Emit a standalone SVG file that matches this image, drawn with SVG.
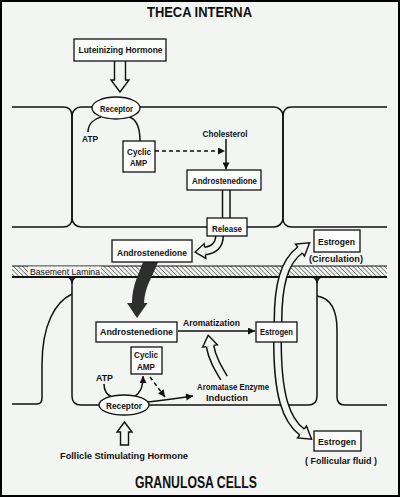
<svg xmlns="http://www.w3.org/2000/svg" width="400" height="497" viewBox="0 0 400 497">
<defs>
<style>
.bg{fill:#f3f5f2}
.cell{fill:none;stroke:#111;stroke-width:1.5;stroke-linejoin:round}
.box{fill:#fbfcfb;stroke:#111;stroke-width:1.3}
.t{font-family:"Liberation Sans",Arial,sans-serif;font-weight:bold;font-size:9px;text-anchor:middle;fill:#111}
.tn{font-family:"Liberation Sans",Arial,sans-serif;font-size:9px;text-anchor:middle;fill:#111}
.ttl{font-family:"Liberation Sans",Arial,sans-serif;font-weight:bold;text-anchor:middle;fill:#111}
.ln{fill:none;stroke:#111;stroke-width:1.5}
.dash{stroke-dasharray:4 3}
.ho{fill:none;stroke:#111;stroke-width:9}
.hi{fill:none;stroke:#f3f5f2;stroke-width:6}
.hd{fill:#f3f5f2;stroke:#111;stroke-width:1.4;stroke-linejoin:miter}
</style>
<marker id="ah" viewBox="0 0 10 10" refX="10" refY="5" markerWidth="8" markerHeight="7" markerUnits="userSpaceOnUse" orient="auto"><path d="M0,0 L10,5 L0,10 z" fill="#111"/></marker>
<pattern id="hatch" width="3.2" height="3.2" patternUnits="userSpaceOnUse" patternTransform="rotate(-45)"><line x1="0" y1="0" x2="0" y2="3.2" stroke="#222" stroke-width="1"/></pattern>
</defs>
<rect class="bg" x="0" y="0" width="400" height="497"/>
<rect x="1" y="1" width="398" height="495" fill="none" stroke="#000" stroke-width="2"/>

<text class="ttl" x="199.5" y="16.5" font-size="14" textLength="105" lengthAdjust="spacingAndGlyphs">THECA INTERNA</text>
<text class="ttl" x="196" y="488" font-size="16" textLength="122" lengthAdjust="spacingAndGlyphs">GRANULOSA CELLS</text>

<g id="theca-cells">
<path class="cell" d="M12,107 H63 Q72,107 72,116 V218 Q72,227 63,227 H12"/>
<rect class="cell" x="72" y="107" width="211" height="120" rx="9"/>
<path class="cell" d="M387,107 H292 Q283,107 283,116 V218 Q283,227 292,227 H387"/>
</g>

<g id="basement-lamina">
<rect x="12" y="266" width="375" height="11" fill="url(#hatch)"/>
<line x1="12" y1="266" x2="387" y2="266" stroke="#111" stroke-width="1"/>
<line x1="12" y1="277" x2="387" y2="277" stroke="#111" stroke-width="2"/>
<rect class="bg" x="28" y="266.5" width="73" height="9.5"/>
<text class="tn" x="65" y="274.5" font-size="8.5" textLength="70" lengthAdjust="spacingAndGlyphs">Basement Lamina</text>
</g>

<g id="granulosa-cells">
<path class="cell" d="M12,404 H37 Q42,404 42,398 V365 C42,325 55,302 72,294"/>
<path class="cell" d="M72,277 V396 Q72,405 81,405 H308 Q317,405 317,396 V277"/>
<path class="cell" d="M68,277 Q72,279 72,283 M76,277 Q72,279 72,283"/>
<path class="cell" d="M313,277 Q317,279 317,283 M321,277 Q317,279 317,283"/>
<path class="cell" d="M317,296 C330,298 337,308 337,330 V397 Q337,405 345,405 H387"/>
</g>

<g id="connectors">
<path class="hd" d="M114.5,61 V80 H111 L120,92 L129,80 H125.5 V61"/>
<path class="hd" d="M120.5,445 V432 H117 L124.5,422 L132,432 H128.5 V445 Z"/>
<path class="ln" d="M88,132 C88,124 94,119 101,117"/>
<path class="ln" d="M129,117 C136,119 140,127 140,141"/>
<path class="ln dash" d="M155,151 H225" marker-end="url(#ah)"/>
<path class="ln" d="M226,139 V169.5" marker-end="url(#ah)"/>
<path class="ho" d="M226.25,190 V218"/>
<path class="hi" d="M226.25,189 V219"/>
<path class="ho" d="M219.5,236 C219.5,245 214,250 205,251"/>
<path class="hi" d="M219.5,235 C219.5,245 214,250 205,251"/>
<path class="hd" d="M204.6,247.3 L204.2,243.6 L195.1,252.1 L205.8,258.4 L205.4,254.7"/>
<path fill="#2e2e2e" d="M143,262 L158,262 C152,278 145,286 144,303 L147.5,303 L137,318 L127,303 L132,303 C132,285 139,274 143,262 Z"/>
<path class="ln" d="M178,331 H255" marker-end="url(#ah)"/>
<path class="ho" d="M278,342 V322 C278,285 284,262 300,250"/>
<path class="hi" d="M278,343 V322 C278,285 284,262 300,250"/>
<path class="hd" d="M297.75,247 L295.5,244 L309.6,242.8 L304.5,256 L302.25,253"/>
<path class="ho" d="M277.5,342 C277.5,395 286,420 302,432"/>
<path class="hi" d="M277.5,341 C277.5,395 286,420 302,432"/>
<path class="hd" d="M304.25,429 L306.5,426 L311.6,439.2 L297.5,438 L299.75,435"/>
<path class="ho" d="M224,378 C218,368 212,358 210,346"/>
<path class="hi" d="M224.6,379 C218,368 212,358 210,346"/>
<path class="hd" d="M213.7,345.4 L217.4,344.8 L208.2,335.2 L202.6,347.2 L206.3,346.6"/>
<path class="ln" d="M104,384 C104,390 107,395 112,397"/>
<path class="ln" d="M134,397 C140,393 143,388 143,376" marker-end="url(#ah)"/>
<path class="ln dash" d="M150,377 L165,397" marker-end="url(#ah)"/>
<path class="ln" d="M148,402 C165,400 180,398 193,396" marker-end="url(#ah)"/>
</g>

<g id="lh">
<rect class="box" x="74" y="39" width="92" height="22"/>
<text class="t" x="120.5" y="53" textLength="84" lengthAdjust="spacingAndGlyphs">Luteinizing Hormone</text>
</g>
<g id="receptor-theca">
<ellipse class="box" cx="116" cy="108" rx="24" ry="11"/>
<text class="t" x="116.5" y="112" textLength="33" lengthAdjust="spacingAndGlyphs">Receptor</text>
</g>
<g id="atp-theca">
<text class="t" x="90" y="142" textLength="16" lengthAdjust="spacingAndGlyphs">ATP</text>
</g>
<g id="camp-theca">
<rect class="box" x="123" y="141" width="32" height="31"/>
<text class="t" x="139" y="154.5" textLength="24" lengthAdjust="spacingAndGlyphs">Cyclic</text>
<text class="t" x="138.5" y="166" textLength="17" lengthAdjust="spacingAndGlyphs">AMP</text>
</g>
<g id="cholesterol">
<text class="t" x="225" y="136.5" textLength="45" lengthAdjust="spacingAndGlyphs">Cholesterol</text>
</g>
<g id="andro-theca">
<rect class="box" x="187" y="170" width="74" height="20"/>
<text class="t" x="224.5" y="184" textLength="65" lengthAdjust="spacingAndGlyphs">Androstenedione</text>
</g>
<g id="release">
<rect class="box" x="207" y="218" width="40" height="18"/>
<text class="t" x="227" y="231.5" textLength="30" lengthAdjust="spacingAndGlyphs">Release</text>
</g>
<g id="andro-mid">
<rect class="box" x="112" y="240" width="80" height="22"/>
<text class="t" x="152" y="255.5" textLength="70" lengthAdjust="spacingAndGlyphs">Androstenedione</text>
</g>
<g id="estrogen-circ">
<rect class="box" x="314" y="230" width="46" height="22"/>
<text class="t" x="336.5" y="244.5" textLength="37" lengthAdjust="spacingAndGlyphs">Estrogen</text>
<text class="t" x="336" y="262" textLength="54" lengthAdjust="spacingAndGlyphs">(Circulation)</text>
</g>
<g id="andro-gran">
<rect class="box" x="96" y="322" width="81" height="20"/>
<text class="t" x="136.5" y="335" textLength="73" lengthAdjust="spacingAndGlyphs">Androstenedione</text>
</g>
<g id="aromatization">
<text class="t" x="211.5" y="326" textLength="57" lengthAdjust="spacingAndGlyphs">Aromatization</text>
</g>
<g id="estrogen-gran">
<rect class="box" x="256" y="322" width="41" height="20"/>
<text class="t" x="276.5" y="335" textLength="33" lengthAdjust="spacingAndGlyphs">Estrogen</text>
</g>
<g id="camp-gran">
<rect class="box" x="131" y="347" width="31" height="27"/>
<text class="t" x="146" y="357.5" textLength="24" lengthAdjust="spacingAndGlyphs">Cyclic</text>
<text class="t" x="146" y="370" textLength="18" lengthAdjust="spacingAndGlyphs">AMP</text>
</g>
<g id="atp-gran">
<text class="t" x="104.5" y="380.5" textLength="17" lengthAdjust="spacingAndGlyphs">ATP</text>
</g>
<g id="receptor-gran">
<ellipse class="box" cx="124" cy="405" rx="25" ry="10"/>
<text class="t" x="124" y="409" textLength="36" lengthAdjust="spacingAndGlyphs">Receptor</text>
</g>
<g id="aromatase">
<text class="t" x="233" y="389.5" textLength="72" lengthAdjust="spacingAndGlyphs">Aromatase Enzyme</text>
<text class="t" x="227" y="400.5" textLength="42" lengthAdjust="spacingAndGlyphs">Induction</text>
</g>
<g id="fsh">
<text class="t" x="124" y="458.5" textLength="128" lengthAdjust="spacingAndGlyphs">Follicle Stimulating Hormone</text>
</g>
<g id="estrogen-ff">
<rect class="box" x="314" y="431" width="47" height="20"/>
<text class="t" x="337" y="444.5" textLength="38" lengthAdjust="spacingAndGlyphs">Estrogen</text>
<text class="t" x="341" y="464" textLength="72" lengthAdjust="spacingAndGlyphs">( Follicular fluid )</text>
</g>
</svg>
